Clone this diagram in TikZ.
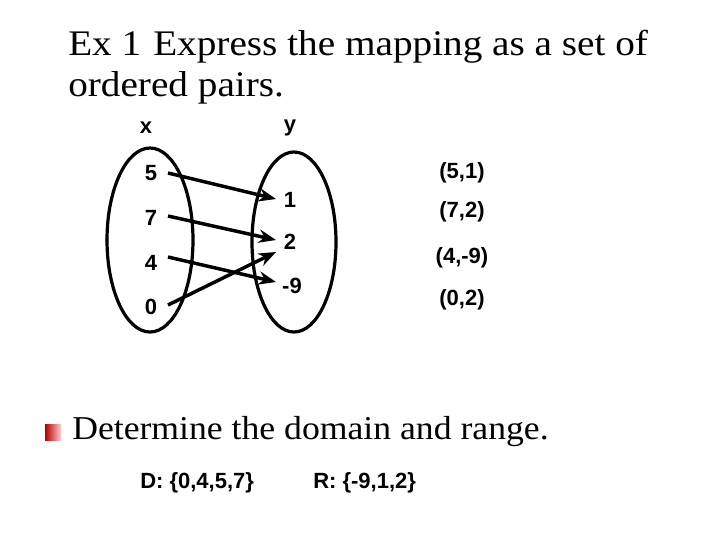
\documentclass[tikz,border=0pt]{standalone}
\usepackage{fontspec}
\usetikzlibrary{arrows.meta}
\setmainfont{Liberation Serif}
\newfontfamily\sans{Liberation Sans}
\newfontfamily\ttlfont[FakeStretch=1.09]{Liberation Serif}
\newfontfamily\qfont[FakeStretch=1.07]{Liberation Serif}
\begin{document}
\begin{tikzpicture}[x=0.75pt,y=-0.75pt,
 lab/.style={font=\sans\bfseries\fontsize{16.5}{19}\selectfont,inner sep=0},
 ttl/.style={font=\ttlfont\fontsize{27}{32}\selectfont,inner sep=0,anchor=west},
 arr/.style={line width=2.6pt,-{Stealth[length=13pt,width=10pt]}},
 ov/.style={draw,line width=2.4pt}]
\useasboundingbox (0,0) rectangle (720,540);
\node[ttl] (t1) at (68,47) {Ex 1\,\,Express the mapping as a set of};
\node[ttl] (t2) at (68,88) {ordered pairs.};
\node[lab] (hx) at (146,128) {x};
\node[lab] (hy) at (290,128) {y};
\draw[ov] (150,240) ellipse [x radius=43, y radius=92];
\draw[ov] (294,242) ellipse [x radius=42, y radius=90];
\node[lab] (a5) at (151,173) {5};
\node[lab] (a7) at (151,218) {7};
\node[lab] (a4) at (151,263) {4};
\node[lab] (a0) at (151,307) {0};
\node[lab] (b1) at (290,200) {1};
\node[lab] (b2) at (290,242) {2};
\node[lab] (b9) at (292,286) {-9};
\coordinate (s5) at (168,173); \coordinate (s7) at (168,216);
\coordinate (s4) at (168,257); \coordinate (s0) at (168,305);
\coordinate (e1) at (276,199); \coordinate (e2) at (276,240);
\coordinate (e9) at (276,282); \coordinate (e2b) at (276,252);
\draw[arr] (s5) -- (e1);
\draw[arr] (s7) -- (e2);
\draw[arr] (s4) -- (e9);
\draw[arr] (s0) -- (e2b);
\node[lab] (p1) at (462,173) {(5,1)};
\node[lab] (p2) at (462,212) {(7,2)};
\node[lab] (p3) at (462,258) {(4,-9)};
\node[lab] (p4) at (462,300) {(0,2)};
\shade[left color=red!70!black,right color=red!20!white] (45,424) rectangle (61,440);
\node[font=\qfont\fontsize{25}{30}\selectfont,inner sep=0,anchor=west] (q) at (72,432) {Determine the domain and range.};
\node[lab,anchor=west] (d) at (140,483) {D: \{0,4,5,7\}};
\node[lab,anchor=west] (r) at (313,483) {R: \{-9,1,2\}};
\end{tikzpicture}
\end{document}
